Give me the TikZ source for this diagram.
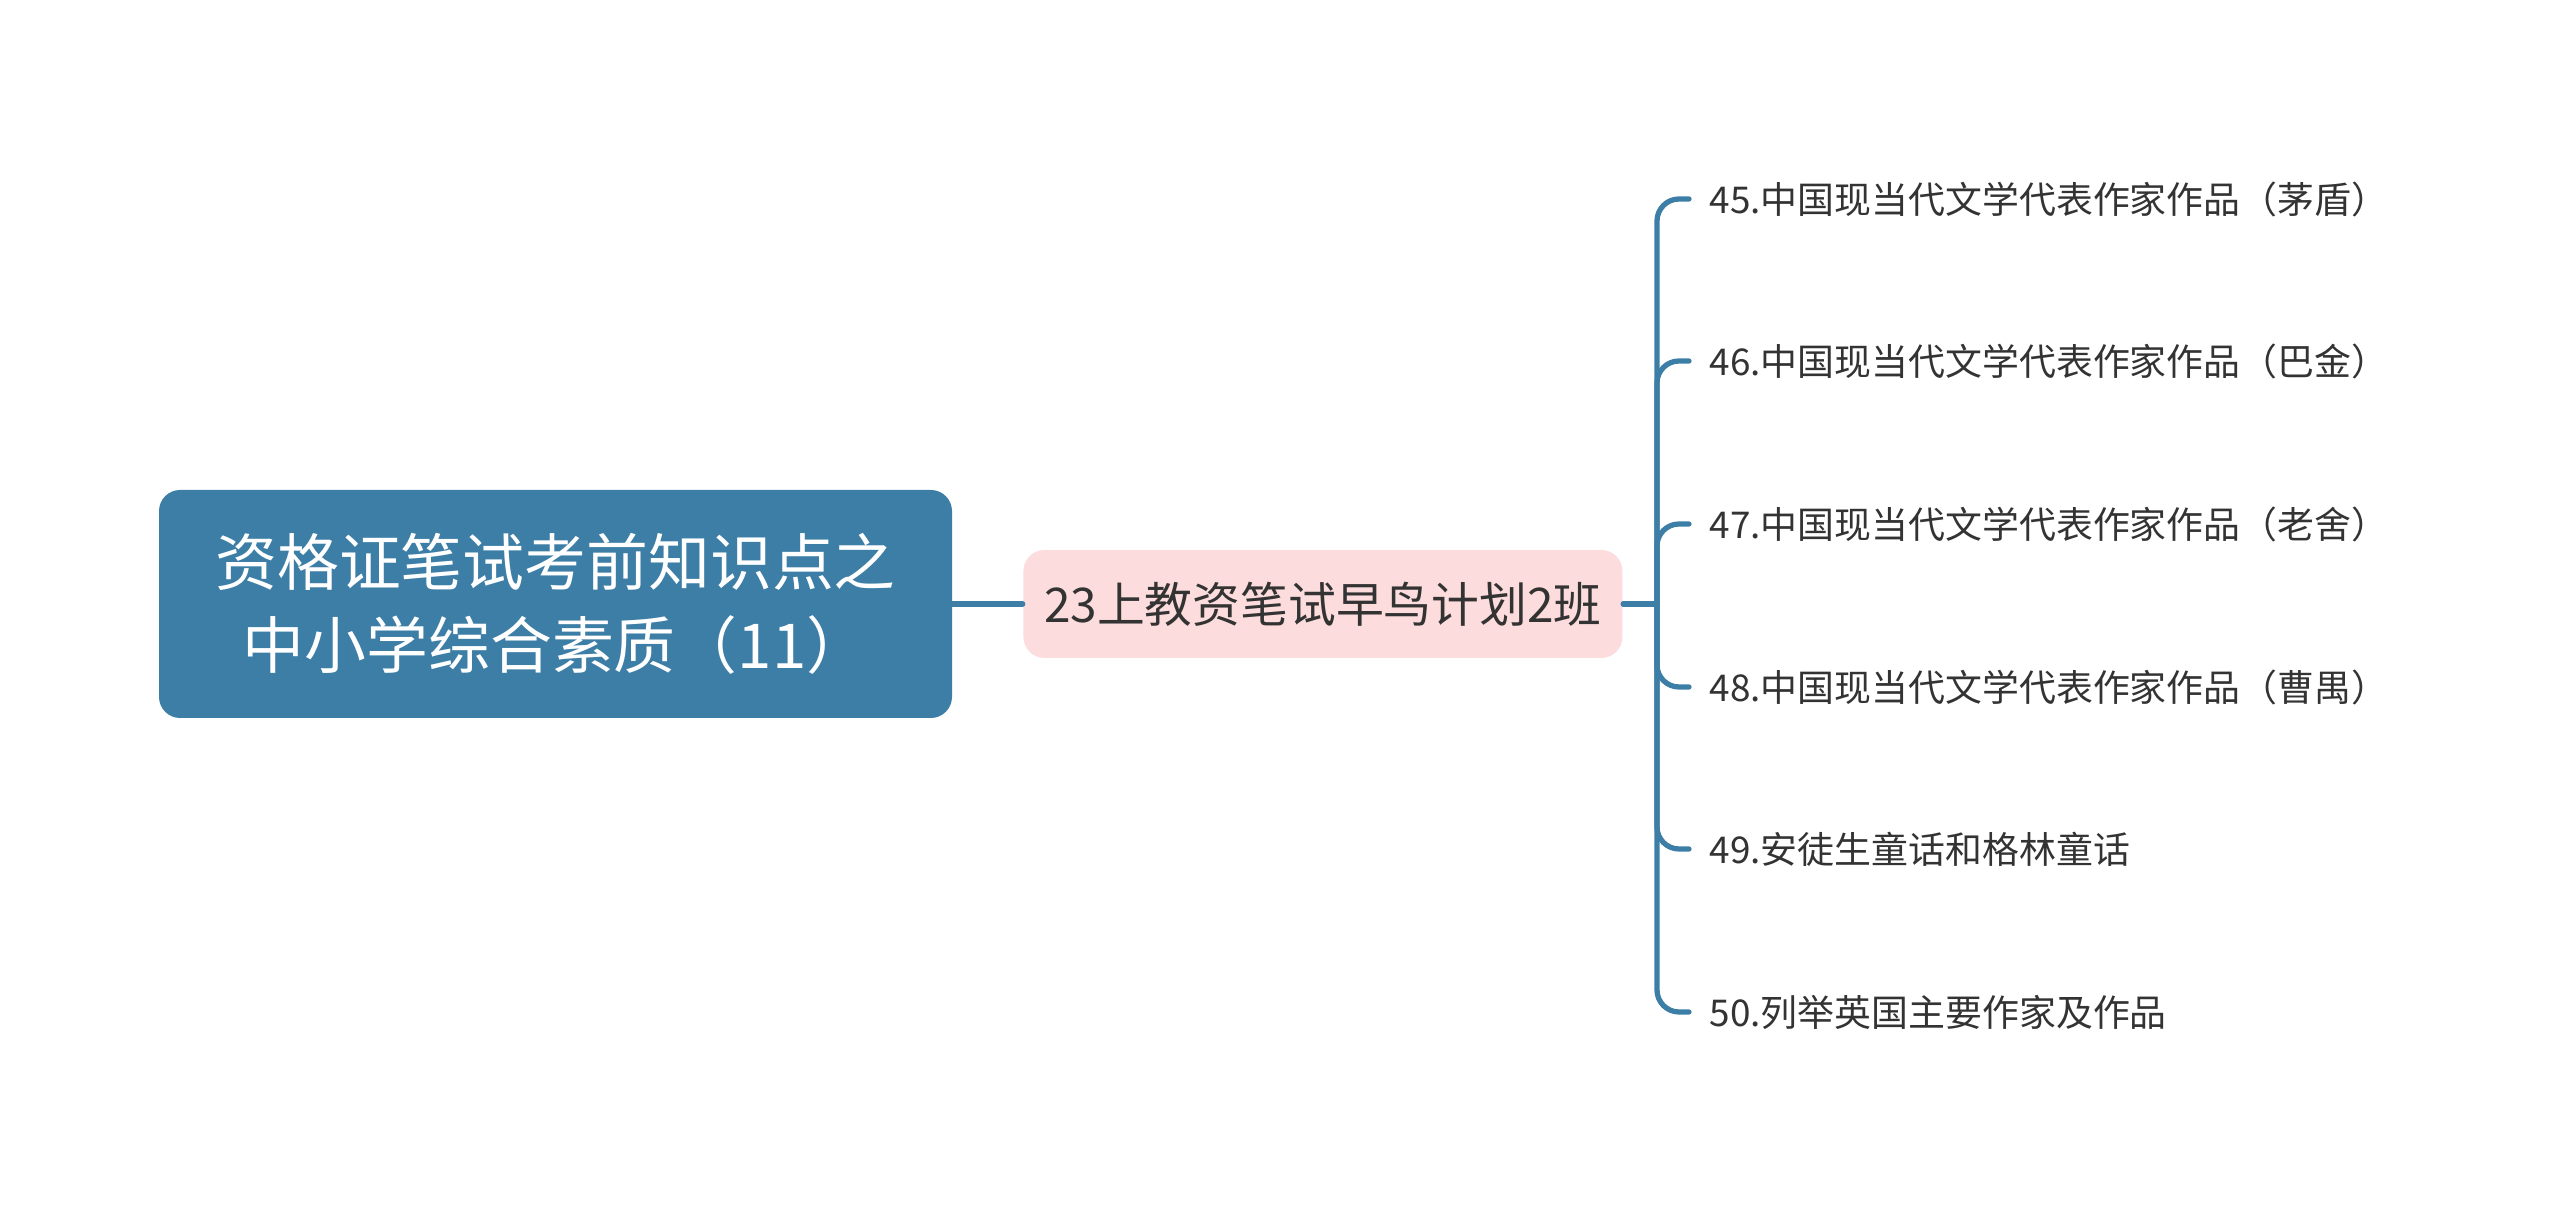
\documentclass[tikz,border=0pt]{standalone}
\usepackage{fontspec}
\newfontfamily\cjk{Noto Sans CJK SC}
\usetikzlibrary{positioning}
\definecolor{zhublue}{HTML}{3D7EA6}
\definecolor{zhupink}{HTML}{FCDCDC}
\definecolor{zhutext}{HTML}{333333}
\begin{document}
\begin{tikzpicture}[line join=round,line cap=round,font=\cjk,
	rootbox/.style={fill=zhublue,text=white,rounded corners=6pt,minimum width=7.93cm,minimum height=2.28cm,align=center,font=\cjk\fontsize{17.6}{23.6}\selectfont},
	midbox/.style={fill=zhupink,text=zhutext,rounded corners=6pt,minimum width=5.99cm,minimum height=1.08cm,font=\cjk\fontsize{13.6}{16}\selectfont},
	leafbox/.style={text=zhutext,anchor=west,inner sep=0.2cm,font=\cjk\fontsize{10.5}{12}\selectfont},
	branch/.style={draw=zhublue,line width=1.5pt}]
				\useasboundingbox (0,0) rectangle (25.6,12.1);
				\node[rootbox] (root) at (5.555,6.06) {资格证笔试考前知识点之\\中小学综合素质（11）};
				\node[midbox,right=0.7cm of root] (mid) {23上教资笔试早鸟计划2班};
				\coordinate (J) at (16.57,6.06); % nút rẽ nhánh
				\draw[branch] (root)--(mid) (mid)--(J);
				\foreach \x/\y/\t in {a/10.11/45.中国现当代文学代表作家作品（茅盾）,
					b/8.49/46.中国现当代文学代表作家作品（巴金）,
					c/6.86/47.中国现当代文学代表作家作品（老舍）,
					d/5.23/48.中国现当代文学代表作家作品（曹禺）,
					e/3.61/49.安徒生童话和格林童话,
					f/1.98/50.列举英国主要作家及作品
				}{\node[leafbox] (\x) at (16.89,\y) {\t};
				\draw[branch,rounded corners=0.22cm] (J)|-(\x.west);}
			\end{tikzpicture}
\end{document}
